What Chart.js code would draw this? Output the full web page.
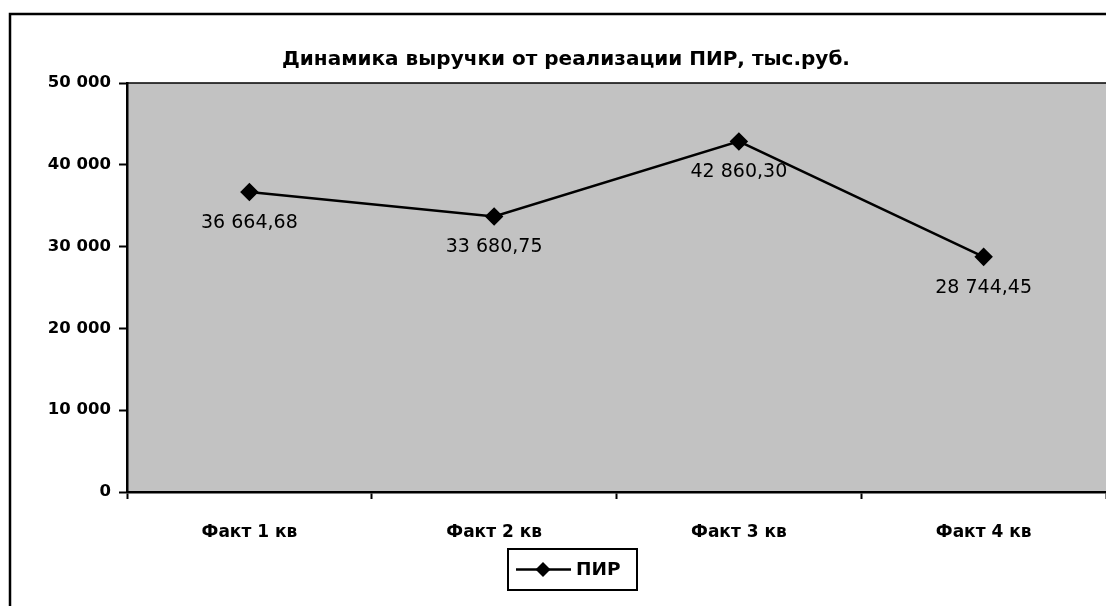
<!DOCTYPE html>
<html>
<head>
<meta charset="utf-8">
<script src="https://cdn.jsdelivr.net/npm/chart.js@4.4.1/dist/chart.umd.min.js"></script>
<style>
html,body{margin:0;padding:0;background:#fff;}
#wrap{width:1106px;height:606px;}
</style>
</head>
<body>
<div id="wrap"><canvas id="c" width="1106" height="606"></canvas></div>
<script>
const chartTitle = 'Динамика выручки от реализации ПИР, тыс.руб.';
const categories = ['Факт 1 кв', 'Факт 2 кв', 'Факт 3 кв', 'Факт 4 кв'];
const seriesName = 'ПИР';
const seriesValues = [36664.68, 33680.75, 42860.30, 28744.45];
const yTicks = [0, 10000, 20000, 30000, 40000, 50000];

function groupThousands(intStr){
  return intStr.replace(/\B(?=(\d{3})+(?!\d))/g, ' ');
}
function fmtInt(v){ return groupThousands(String(Math.round(v))); }
function fmtDec(v){
  const parts = v.toFixed(2).split('.');
  return groupThousands(parts[0]) + ',' + parts[1];
}

const FONT = '"DejaVu Sans", "Liberation Sans", Arial, sans-serif';

const decorPlugin = {
  id: 'decor',
  beforeDraw(chart){
    const ctx = chart.ctx, a = chart.chartArea;
    ctx.save();
    ctx.fillStyle = '#ffffff';
    ctx.fillRect(0,0,chart.width,chart.height);
    // outer frame
    ctx.strokeStyle = '#000';
    ctx.lineWidth = 2.5;
    ctx.beginPath();
    ctx.moveTo(10, chart.height + 5);
    ctx.lineTo(10, 14);
    ctx.lineTo(chart.width + 5, 14);
    ctx.stroke();
    // plot background
    ctx.fillStyle = '#c2c2c2';
    ctx.fillRect(a.left, a.top, a.right - a.left, a.bottom - a.top);
    // plot top border
    ctx.lineWidth = 1.5;
    ctx.beginPath();
    ctx.moveTo(a.left, a.top);
    ctx.lineTo(a.right, a.top);
    ctx.stroke();
    ctx.restore();
  },
  afterDatasetsDraw(chart){
    const ctx = chart.ctx;
    const meta = chart.getDatasetMeta(0);
    const ds = chart.data.datasets[0];
    ctx.save();
    ctx.fillStyle = '#000';
    ctx.font = '19px ' + FONT;
    ctx.textAlign = 'center';
    ctx.textBaseline = 'middle';
    meta.data.forEach((pt, i) => {
      ctx.fillText(fmtDec(ds.data[i]), pt.x, pt.y + 31);
    });
    // legend
    const bx = 508, by = 549, bw = 129, bh = 41;
    ctx.fillStyle = '#fff';
    ctx.fillRect(bx, by, bw, bh);
    ctx.strokeStyle = '#000';
    ctx.lineWidth = 2;
    ctx.strokeRect(bx, by, bw, bh);
    const ly = by + bh/2;
    ctx.lineWidth = 2.5;
    ctx.beginPath();
    ctx.moveTo(bx + 8, ly);
    ctx.lineTo(bx + 63, ly);
    ctx.stroke();
    ctx.fillStyle = '#000';
    ctx.beginPath();
    const cx = bx + 35, r = 7.5;
    ctx.moveTo(cx, ly - r); ctx.lineTo(cx + r, ly); ctx.lineTo(cx, ly + r); ctx.lineTo(cx - r, ly);
    ctx.closePath(); ctx.fill();
    ctx.font = 'bold 18.5px ' + FONT;
    ctx.textAlign = 'left';
    ctx.fillText(ds.label, bx + 68, ly + 1);
    ctx.restore();
  }
};

new Chart(document.getElementById('c'), {
  type: 'line',
  data: {
    labels: categories,
    datasets: [{
      label: seriesName,
      data: seriesValues,
      borderColor: '#000',
      backgroundColor: '#000',
      borderWidth: 2.5,
      pointStyle: 'rectRot',
      pointRadius: 7.5,
      pointHoverRadius: 7.5,
      pointBackgroundColor: '#000',
      pointBorderColor: '#000',
      tension: 0,
      fill: false
    }]
  },
  options: {
    responsive: false,
    animation: false,
    devicePixelRatio: 1,
    layout: { autoPadding: false, padding: { left: 26, right: 0, top: 0, bottom: 0 } },
    plugins: {
      legend: { display: false },
      tooltip: { enabled: false },
      title: {
        display: true,
        text: chartTitle,
        color: '#000',
        font: { family: FONT, size: 20, weight: 'bold' },
        padding: { top: 48, bottom: 11 }
      }
    },
    scales: {
      x: {
        offset: true,
        afterFit(s){ s.height = 114; s.paddingLeft = 0; s.paddingRight = 0; },
        grid: { offset: true, drawOnChartArea: false, drawTicks: true, tickLength: 7, tickColor: '#000', tickWidth: 2 },
        border: { display: true, color: '#000', width: 2.5 },
        ticks: { color: '#000', padding: 23, font: { family: FONT, size: 17, weight: 'bold' }, maxRotation: 0 }
      },
      y: {
        min: 0, max: 50000,
        afterFit(s){ s.width = 101; },
        afterBuildTicks(s){ s.ticks = yTicks.map(v => ({ value: v })); },
        grid: { drawOnChartArea: false, drawTicks: true, tickLength: 8, tickColor: '#000', tickWidth: 2 },
        border: { display: true, color: '#000', width: 2.5 },
        ticks: { color: '#000', padding: 8, font: { family: FONT, size: 16.5, weight: 'bold' }, callback: v => fmtInt(v) }
      }
    }
  },
  plugins: [decorPlugin]
});
</script>
</body>
</html>
